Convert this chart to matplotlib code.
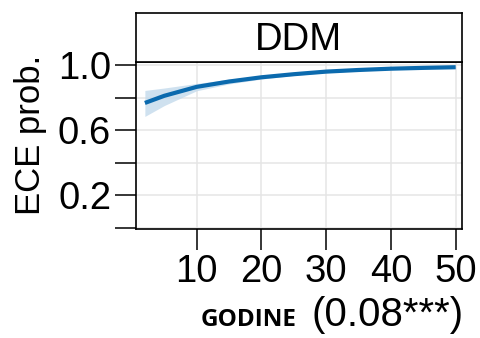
import numpy as np
import matplotlib
matplotlib.use("Agg")
import matplotlib.pyplot as plt

plt.rcParams['font.family'] = ['Liberation Sans', 'DejaVu Sans']

# data
godine = [2, 5, 10, 15, 20, 25, 30, 35, 40, 45, 50]
prob = [0.768, 0.812, 0.867, 0.900, 0.926, 0.945, 0.961, 0.971, 0.979, 0.984, 0.988]
ci_low = [0.685, 0.752, 0.843, 0.885, 0.915, 0.937, 0.954, 0.966, 0.975, 0.981, 0.985]
ci_high = [0.845, 0.860, 0.888, 0.914, 0.936, 0.953, 0.967, 0.976, 0.983, 0.988, 0.991]
xticks = [10, 20, 30, 40, 50]
yticks = [0.0, 0.2, 0.4, 0.6, 0.8, 1.0]
ytick_labels = ['', '0.2', '', '0.6', '', '1.0']
panel_title = 'DDM'

W, H = 480, 338
fig = plt.figure(figsize=(W / 100, H / 100), dpi=100)

left, right = 136 / W, 461.7 / W
ax = fig.add_axes([left, (H - 228.5) / H, right - left, (228.5 - 61.7) / H])
strip = fig.add_axes([left, (H - 61.7) / H, right - left, (61.7 - 13) / H])

line_col = '#0B6AAE'
ax.fill_between(godine, ci_low, ci_high, color='#C3DAEC', alpha=0.8, lw=0)
ax.plot(godine, prob, color=line_col, lw=3.0, solid_capstyle='butt')

ax.set_xlim(0.63, 50.93)
ax.set_ylim(-0.005, 1.022)
ax.set_xticks(xticks)
ax.set_yticks(yticks)
ax.set_yticklabels(ytick_labels)
ax.grid(True, color='#E5E5E5', lw=1.1)
ax.set_axisbelow(True)
ax.tick_params(axis='both', length=15, width=1.1, color='black',
               labelsize=27.5, direction='out')
ax.tick_params(axis='y', pad=3)
ax.tick_params(axis='x', pad=3)
for s in ax.spines.values():
    s.set_linewidth(1.2)
    s.set_color('black')

strip.set_xticks([])
strip.set_yticks([])
for s in strip.spines.values():
    s.set_linewidth(1.2)
strip.text(0.5, 0.45, panel_title, ha='center', va='center', fontsize=27.5,
           transform=strip.transAxes)

fig.text(14 / W, (H - 135) / H, 'ECE prob.', rotation=90, ha='left',
         va='center', fontsize=25)
fig.text(201 / W, (H - 326) / H, 'GODINE', ha='left', va='baseline',
         fontsize=17.5, fontweight='bold', family=['Open Sans', 'DejaVu Sans'])
fig.text(312 / W, (H - 326) / H, '(0.08***)', ha='left', va='baseline',
         fontsize=29)

fig.savefig('out.png', dpi=100)
